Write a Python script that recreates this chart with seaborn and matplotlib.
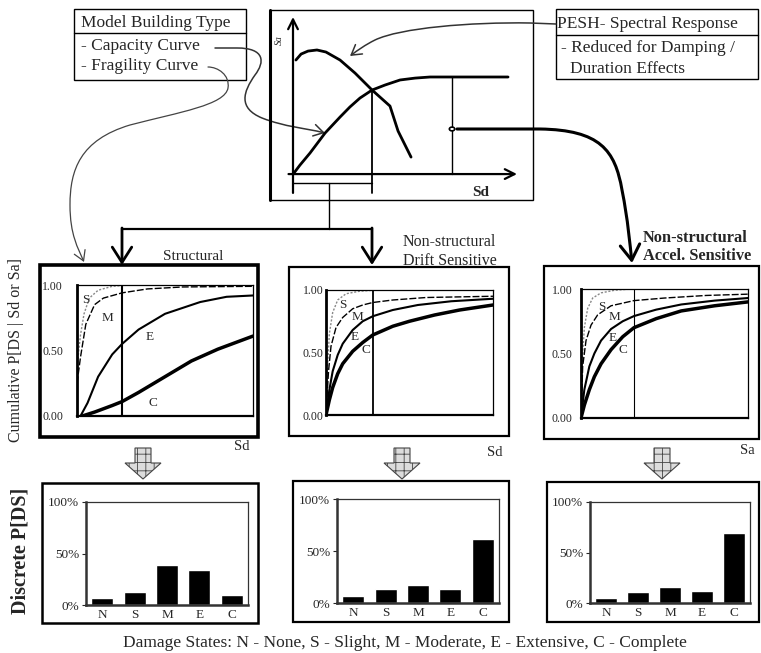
# HAZUS-style damage estimation flow diagram
import numpy as np
import pandas as pd
import matplotlib
matplotlib.use('Agg')
import matplotlib.pyplot as plt
import seaborn as sns
from matplotlib.path import Path
from matplotlib.patches import FancyArrowPatch, Rectangle, Polygon, Circle

# ---- data ----
# capacity / demand plot (Sd, Sa normalised 0..1)
demand_sd = [0.013, 0.036, 0.067, 0.107, 0.147, 0.21, 0.277, 0.353, 0.433, 0.469, 0.527]
demand_sa = [0.726, 0.764, 0.783, 0.79, 0.777, 0.726, 0.643, 0.535, 0.433, 0.274, 0.108]
capacity_sd = [0.004, 0.031, 0.076, 0.143, 0.21, 0.254, 0.299, 0.353, 0.411, 0.478, 0.545, 0.612, 0.746, 0.96]
capacity_sa = [0.006, 0.057, 0.134, 0.261, 0.363, 0.427, 0.484, 0.535, 0.567, 0.599, 0.611, 0.618, 0.618, 0.618]
perf_sd, perf_sa = 0.353, 0.535
accel_sd, accel_top, accel_pt = 0.71, 0.618, 0.287

# fragility curves: structural (x = Sd normalised)
st_S_x = [0.0, 0.01, 0.02, 0.04, 0.07, 0.12, 0.2, 0.3, 0.5, 1.0]
st_S_y = [0.35, 0.5, 0.62, 0.78, 0.9, 0.96, 0.99, 1.0, 1.0, 1.0]
st_M_x = [0.0, 0.01, 0.02, 0.05, 0.1, 0.15, 0.256, 0.4, 0.6, 1.0]
st_M_y = [0.25, 0.35, 0.45, 0.7, 0.85, 0.9, 0.94, 0.97, 0.985, 0.99]
st_E_x = [0.02, 0.06, 0.12, 0.2, 0.256, 0.35, 0.5, 0.7, 0.85, 1.0]
st_E_y = [0.0, 0.1, 0.3, 0.47, 0.55, 0.66, 0.78, 0.87, 0.91, 0.92]
st_C_x = [0.03, 0.1, 0.2, 0.256, 0.35, 0.5, 0.65, 0.8, 1.0]
st_C_y = [0.0, 0.03, 0.08, 0.11, 0.18, 0.3, 0.42, 0.51, 0.61]
st_line = 0.256

# non-structural drift sensitive
dr_S_x = [0.0, 0.01, 0.02, 0.04, 0.07, 0.12, 0.2, 0.3, 1.0]
dr_S_y = [0.0, 0.4, 0.65, 0.82, 0.92, 0.97, 0.99, 1.0, 1.0]
dr_M_x = [0.0, 0.015, 0.03, 0.06, 0.1, 0.16, 0.22, 0.28, 0.4, 0.6, 1.0]
dr_M_y = [0.0, 0.35, 0.55, 0.7, 0.78, 0.85, 0.88, 0.9, 0.92, 0.94, 0.95]
dr_E_x = [0.0, 0.02, 0.04, 0.07, 0.1, 0.16, 0.22, 0.28, 0.4, 0.55, 0.75, 1.0]
dr_E_y = [0.0, 0.2, 0.35, 0.48, 0.57, 0.68, 0.75, 0.79, 0.84, 0.88, 0.91, 0.93]
dr_C_x = [0.0, 0.02, 0.04, 0.07, 0.1, 0.16, 0.22, 0.28, 0.4, 0.5, 0.65, 0.8, 1.0]
dr_C_y = [0.0, 0.12, 0.22, 0.33, 0.41, 0.51, 0.58, 0.64, 0.71, 0.75, 0.8, 0.84, 0.88]
dr_line = 0.28

# non-structural acceleration sensitive (x = Sa normalised)
ac_S_x = [0.0, 0.008, 0.02, 0.04, 0.07, 0.12, 0.2, 0.3, 1.0]
ac_S_y = [0.0, 0.45, 0.7, 0.85, 0.93, 0.97, 0.99, 1.0, 1.0]
ac_M_x = [0.0, 0.01, 0.03, 0.06, 0.1, 0.18, 0.317, 0.5, 0.75, 1.0]
ac_M_y = [0.0, 0.4, 0.6, 0.72, 0.8, 0.87, 0.91, 0.93, 0.95, 0.96]
ac_E_x = [0.0, 0.02, 0.05, 0.08, 0.12, 0.18, 0.25, 0.317, 0.45, 0.6, 0.8, 1.0]
ac_E_y = [0.0, 0.22, 0.4, 0.5, 0.6, 0.69, 0.75, 0.79, 0.84, 0.88, 0.91, 0.93]
ac_C_x = [0.0, 0.02, 0.05, 0.08, 0.12, 0.18, 0.25, 0.317, 0.45, 0.6, 0.8, 1.0]
ac_C_y = [0.0, 0.1, 0.22, 0.32, 0.42, 0.53, 0.63, 0.7, 0.77, 0.83, 0.87, 0.9]
ac_line = 0.317

# discrete damage state probabilities
states = ['N', 'S', 'M', 'E', 'C']
struct_bar = [0.07, 0.13, 0.39, 0.34, 0.10]
drift_bar = [0.07, 0.13, 0.17, 0.13, 0.62]
accel_bar = [0.05, 0.11, 0.16, 0.12, 0.69]

# ---- styling ----
sns.set_theme(style='white')
plt.rcParams['font.family'] = ['Liberation Serif', 'DejaVu Serif']
plt.rcParams['hatch.linewidth'] = 0.6

W, H = 761, 653
fig = plt.figure(figsize=(W / 100, H / 100), dpi=100)


def box(x0, y0, x1, y1):
    # pixel box (top-left origin) -> figure fraction
    return [x0 / W, 1 - y1 / H, (x1 - x0) / W, (y1 - y0) / H]


bg = fig.add_axes([0, 0, 1, 1])
bg.set_xlim(0, W)
bg.set_ylim(H, 0)
bg.axis('off')


def rect(x0, y0, x1, y1, lw=1.0):
    bg.add_patch(Rectangle((x0, y0), x1 - x0, y1 - y0, fill=False, lw=lw, ec='black'))


def curved(verts, codes, lw=1.0, color='black', hl=0.5, hw=0.3, ms=14):
    p = FancyArrowPatch(path=Path(verts, codes), arrowstyle=f'->,head_length={hl},head_width={hw}',
                        lw=lw, color=color, mutation_scale=ms)
    bg.add_patch(p)


# text boxes at the top
rect(74, 9, 246, 80)
bg.plot([74, 246], [33, 33], color='black', lw=1)
bg.text(81, 23, 'Model Building Type', fontsize=12.5, va='center')
bg.text(81, 46, '- Capacity Curve', fontsize=12.5, va='center')
bg.text(81, 66, '- Fragility Curve', fontsize=12.5, va='center')

rect(556, 9, 758, 79)
bg.plot([556, 758], [35, 35], color='black', lw=1)
bg.text(557, 24, 'PESH- Spectral Response', fontsize=12.5, va='center')
bg.text(561, 48, '- Reduced for Damping /', fontsize=12.5, va='center')
bg.text(570, 69, 'Duration Effects', fontsize=12.5, va='center')

# capacity / demand frame
rect(270, 10, 533, 200)
bg.plot([270, 270], [10, 200], color='black', lw=2.2)

# connector lines and arrows
C4, L, M = Path.CURVE4, Path.LINETO, Path.MOVETO
curved([(215, 48), (237, 48), (265, 48), (265, 62), (255, 75), (243, 92), (238, 108), (262, 118),
        (285, 127), (305, 128), (325, 133)],
       [M, L, C4, C4, C4, C4, C4, C4, C4, C4, C4], lw=1.1, color='#333333')
curved([(208, 67), (218, 67), (230, 75), (228, 88), (225, 105), (180, 112), (130, 125),
        (80, 140), (70, 170), (70, 205), (70, 235), (78, 248), (84, 262)],
       [M, C4, C4, C4, C4, C4, C4, C4, C4, C4, C4, C4, C4], lw=0.9, color='#444444')
curved([(556, 24), (530, 23), (470, 22), (400, 28), (375, 40), (365, 45), (358, 50), (350, 56)],
       [M, L, C4, C4, C4, C4, C4, C4], lw=1.1, color='#333333')
curved([(457, 129), (540, 129), (600, 130), (615, 150), (622, 190), (628, 220), (630, 245), (632, 263)],
       [M, L, C4, C4, C4, C4, C4, C4], lw=2.2, hl=0.55, hw=0.35, ms=20)
bg.plot([329, 329], [183, 229], color='black', lw=1)
bg.plot([122, 372], [229, 229], color='black', lw=1.6)
for cx in [122, 372]:
    bg.annotate('', xy=(cx, 265), xytext=(cx, 228),
                arrowprops=dict(arrowstyle='->,head_length=0.55,head_width=0.35', lw=2, color='black',
                                mutation_scale=20, shrinkA=0, shrinkB=0))

# outer frames of the fragility and bar panels
rect(40, 265, 258, 437, lw=2.6)
rect(289, 267, 509, 436, lw=1.6)
rect(544, 266, 759, 439, lw=1.6)
rect(42, 483, 258, 623, lw=1.8)
rect(293, 481, 509, 622, lw=1.6)
rect(547, 482, 759, 622, lw=1.6)

# hatched block arrows
for cx in [143, 402, 662]:
    bg.add_patch(Polygon([(cx - 8, 448), (cx + 8, 448), (cx + 8, 463), (cx + 18, 463), (cx, 479),
                          (cx - 18, 463), (cx - 8, 463)], closed=True, fc='#dcdcdc', ec='#444444',
                         lw=0.8, hatch='++'))

# panel titles and labels
bg.text(163, 257, 'Structural', fontsize=11, va='center')
bg.text(403, 242, 'Non-structural', fontsize=11.5, va='center')
bg.text(403, 261, 'Drift Sensitive', fontsize=11.5, va='center')
bg.text(643, 238, 'Non-structural', fontsize=11.8, va='center', fontweight='bold')
bg.text(643, 256, 'Accel. Sensitive', fontsize=11.8, va='center', fontweight='bold')
bg.text(234, 447, 'Sd', fontsize=10.5, va='center')
bg.text(487, 452, 'Sd', fontsize=10.5, va='center')
bg.text(740, 450, 'Sa', fontsize=10.5, va='center')
bg.text(16, 350, 'Cumulative P[DS | Sd or Sa]', fontsize=11.5, rotation=90, va='center', ha='center')
bg.text(21, 551, 'Discrete P[DS]', fontsize=14.5, rotation=90, va='center', ha='center', fontweight='bold')
bg.text(405, 643, 'Damage States: N - None, S - Slight, M - Moderate, E - Extensive, C - Complete',
        fontsize=12.5, va='center', ha='center')

# ---- capacity / demand plot ----
ax_t = fig.add_axes(box(293, 17, 517, 186))
ax_t.set_xlim(0, 1)
ax_t.set_ylim(-0.076, 1.0)
ax_t.axis('off')
ax_t.patch.set_alpha(0)
sns.lineplot(x=demand_sd, y=demand_sa, ax=ax_t, color='black', lw=2, sort=False, estimator=None)
sns.lineplot(x=capacity_sd, y=capacity_sa, ax=ax_t, color='black', lw=2, sort=False, estimator=None)
ax_t.annotate('', xy=(0, 1.0), xytext=(0, -0.12), annotation_clip=False,
              arrowprops=dict(arrowstyle='->,head_length=0.5,head_width=0.25', lw=1.6, color='black',
                              mutation_scale=14, shrinkA=0, shrinkB=0))
ax_t.annotate('', xy=(1.0, 0), xytext=(-0.02, 0), annotation_clip=False,
              arrowprops=dict(arrowstyle='->,head_length=0.5,head_width=0.25', lw=1.6, color='black',
                              mutation_scale=14, shrinkA=0, shrinkB=0))
ax_t.plot([perf_sd, perf_sd], [perf_sa, -0.12], color='black', lw=1.3, clip_on=False)
ax_t.plot([0, perf_sd], [-0.057, -0.057], color='black', lw=1, clip_on=False)
ax_t.plot([accel_sd, accel_sd], [accel_top, 0], color='black', lw=1)
ax_t.add_patch(Circle((accel_sd, accel_pt), 0.012, fc='white', ec='black', lw=1.2, zorder=5))
ax_t.text(-0.04, 0.85, 'Sa', fontsize=7, rotation=90, ha='right', va='center', fontstyle='italic')
ax_t.text(0.8, -0.12, 'Sd', fontsize=11, fontweight='bold', va='center')

# ---- fragility curves ----
curve_style = {
    'S': dict(color='#888888', linestyle=(0, (1.5, 1.2)), lw=1.0),
    'M': dict(color='black', linestyle=(0, (5, 1.5)), lw=1.0),
    'E': dict(color='black', linestyle='-', lw=1.5),
    'C': dict(color='black', linestyle='-', lw=2.5),
}


def fragility(pos, curves, vline, vline_lw, labels, pad):
    ax = fig.add_axes(box(*pos))
    for key, (xs, ys) in curves.items():
        sns.lineplot(x=xs, y=ys, ax=ax, sort=False, estimator=None, **curve_style[key])
    ax.axvline(vline, color='black', lw=vline_lw)
    ax.set_xlim(0, 1)
    ax.set_ylim(0, 1)
    ax.set_xticks([])
    ax.set_yticks([0, 0.5, 1.0])
    ax.set_yticklabels(['0.00', '0.50', '1.00'])
    ax.tick_params(axis='y', length=0, pad=pad, labelsize=8.5)
    for s in ax.spines.values():
        s.set_color('black')
        s.set_linewidth(0.9)
    ax.spines['left'].set_linewidth(2)
    ax.spines['bottom'].set_linewidth(1.6)
    for key, (lx, ly) in labels.items():
        ax.text(lx, ly, key, fontsize=9.5, ha='center', va='center')
    return ax


fragility((77, 285, 253, 416),
          {'S': (st_S_x, st_S_y), 'M': (st_M_x, st_M_y), 'E': (st_E_x, st_E_y), 'C': (st_C_x, st_C_y)},
          st_line, 1.5, {'S': (0.05, 0.885), 'M': (0.176, 0.75), 'E': (0.415, 0.6), 'C': (0.43, 0.1)}, 10)
fragility((326, 290, 493, 415),
          {'S': (dr_S_x, dr_S_y), 'M': (dr_M_x, dr_M_y), 'E': (dr_E_x, dr_E_y), 'C': (dr_C_x, dr_C_y)},
          dr_line, 1.3, {'S': (0.1, 0.88), 'M': (0.186, 0.78), 'E': (0.17, 0.62), 'C': (0.24, 0.52)}, 2)
fragility((581, 289, 748, 418),
          {'S': (ac_S_x, ac_S_y), 'M': (ac_M_x, ac_M_y), 'E': (ac_E_x, ac_E_y), 'C': (ac_C_x, ac_C_y)},
          ac_line, 0.8, {'S': (0.126, 0.86), 'M': (0.2, 0.78), 'E': (0.19, 0.62), 'C': (0.25, 0.53)}, 6)


# ---- discrete probabilities ----
def bars(pos, values):
    ax = fig.add_axes(box(*pos))
    df = pd.DataFrame({'state': states, 'p': values})
    sns.barplot(data=df, x='state', y='p', color='black', width=0.68, ax=ax, saturation=1)
    ax.set_xlim(-0.5, 4.5)
    ax.set_ylim(0, 1)
    ax.set_yticks([0, 0.5, 1.0])
    ax.set_yticklabels(['0%', '50%', '100%'])
    ax.set_xlabel('')
    ax.set_ylabel('')
    ax.tick_params(axis='y', length=3, width=0.8, pad=2, labelsize=9.5, left=True)
    ax.tick_params(axis='x', length=0, pad=3, labelsize=9.5)
    for s in ax.spines.values():
        s.set_color('#333333')
        s.set_linewidth(0.9)
    ax.spines['left'].set_linewidth(1.8)
    ax.spines['bottom'].set_linewidth(1.8)
    return ax


bars((86, 502, 248, 605), struct_bar)
bars((337, 499, 499, 603), drift_bar)
bars((590, 502, 750, 603), accel_bar)

fig.savefig('out.png', dpi=100)
